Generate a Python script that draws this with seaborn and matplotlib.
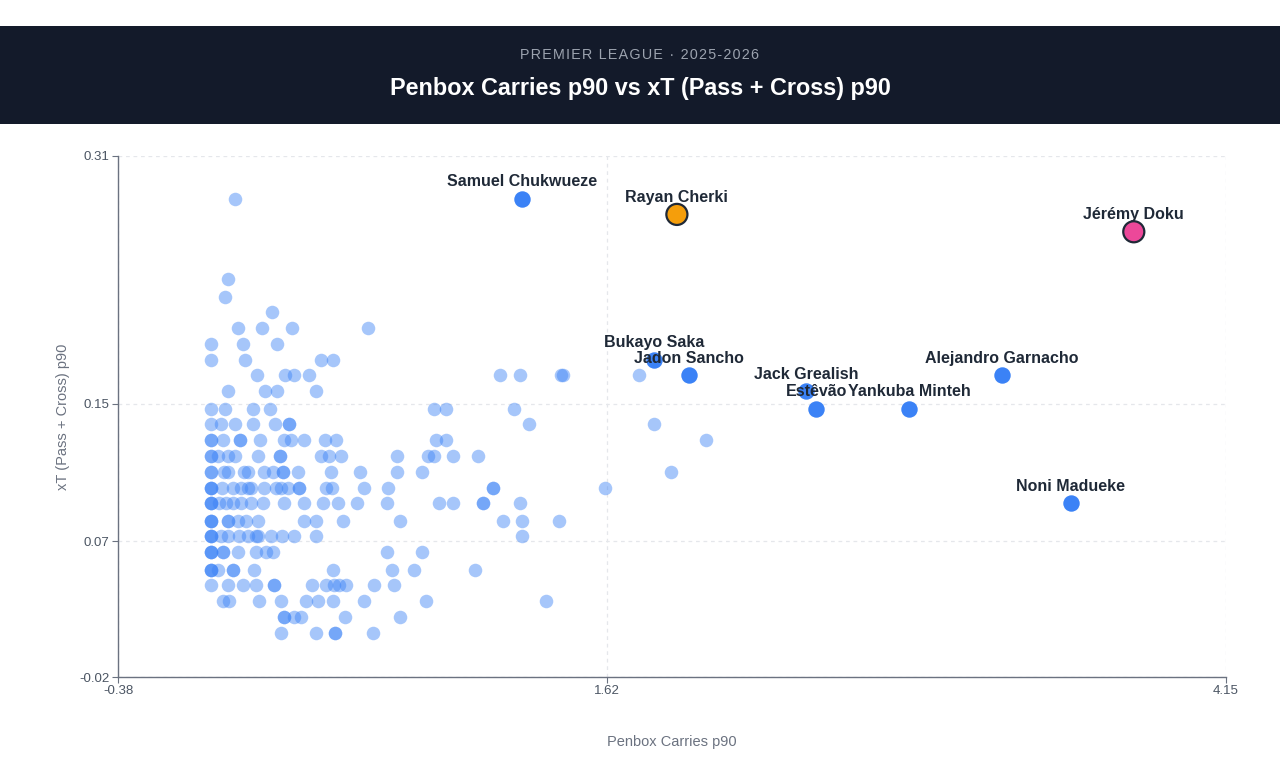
import matplotlib
matplotlib.use('Agg')
import matplotlib.pyplot as plt
import seaborn as sns
import pandas as pd
from matplotlib.patches import Rectangle

# background players, written row by row (same xT value per line)
bg_carries = [
    0.098,
    0.070,
    0.057,
    0.249,
    0.110, 0.209, 0.331, 0.642,
    0.000, 0.131, 0.270,
    0.000, 0.139, 0.450, 0.499,
    0.188, 0.303, 0.339, 0.401, 1.182, 1.263, 1.431, 1.439, 1.750,
    0.070, 0.221, 0.270, 0.429,
    0.000, 0.057, 0.172, 0.241, 0.912, 0.961, 1.239,
    0.000, 0.041, 0.098, 0.172, 0.262, 0.319, 0.319, 1.300, 1.811,
    0.000, 0.000, 0.049, 0.119, 0.119, 0.200, 0.298, 0.327, 0.380, 0.466, 0.511, 0.920, 0.961, 2.024,
    0.000, 0.000, 0.029, 0.070, 0.098, 0.192, 0.282, 0.282, 0.450, 0.482, 0.531, 0.760, 0.887, 0.912, 0.989, 1.092,
    0.000, 0.000, 0.053, 0.070, 0.135, 0.151, 0.217, 0.253, 0.294, 0.294, 0.356, 0.491, 0.609, 0.760, 0.863, 1.881,
    0.000, 0.000, 0.000, 0.045, 0.090, 0.123, 0.151, 0.164, 0.217, 0.266, 0.286, 0.315, 0.360, 0.360, 0.470, 0.495, 0.626, 0.724, 1.153, 1.153, 1.611,
    0.000, 0.000, 0.000, 0.033, 0.061, 0.090, 0.123, 0.164, 0.213, 0.298, 0.380, 0.458, 0.519, 0.597, 0.720, 0.932, 0.989, 1.112, 1.112, 1.263,
    0.000, 0.000, 0.000, 0.070, 0.070, 0.110, 0.143, 0.192, 0.380, 0.429, 0.540, 0.773, 1.194, 1.271, 1.423,
    0.000, 0.000, 0.000, 0.041, 0.070, 0.114, 0.151, 0.184, 0.192, 0.245, 0.290, 0.339, 0.429, 1.271,
    0.000, 0.000, 0.000, 0.049, 0.049, 0.110, 0.184, 0.225, 0.253, 0.720, 0.863,
    0.000, 0.000, 0.000, 0.029, 0.090, 0.090, 0.176, 0.499, 0.740, 0.830, 1.079,
    0.000, 0.070, 0.131, 0.184, 0.258, 0.258, 0.413, 0.470, 0.503, 0.523, 0.552, 0.666, 0.748,
    0.049, 0.074, 0.196, 0.286, 0.388, 0.437, 0.499, 0.626, 0.879, 1.370,
    0.298, 0.298, 0.339, 0.368, 0.548, 0.773,
    0.286, 0.429, 0.507, 0.507, 0.662,
]
bg_xt = [
    0.283,
    0.232,
    0.221,
    0.211,
    0.201, 0.201, 0.201, 0.201,
    0.191, 0.191, 0.191,
    0.181, 0.181, 0.181, 0.181,
    0.171, 0.171, 0.171, 0.171, 0.171, 0.171, 0.171, 0.171, 0.171,
    0.161, 0.161, 0.161, 0.161,
    0.150, 0.150, 0.150, 0.150, 0.150, 0.150, 0.150,
    0.140, 0.140, 0.140, 0.140, 0.140, 0.140, 0.140, 0.140, 0.140,
    0.130, 0.130, 0.130, 0.130, 0.130, 0.130, 0.130, 0.130, 0.130, 0.130, 0.130, 0.130, 0.130, 0.130,
    0.120, 0.120, 0.120, 0.120, 0.120, 0.120, 0.120, 0.120, 0.120, 0.120, 0.120, 0.120, 0.120, 0.120, 0.120, 0.120,
    0.110, 0.110, 0.110, 0.110, 0.110, 0.110, 0.110, 0.110, 0.110, 0.110, 0.110, 0.110, 0.110, 0.110, 0.110, 0.110,
    0.100, 0.100, 0.100, 0.100, 0.100, 0.100, 0.100, 0.100, 0.100, 0.100, 0.100, 0.100, 0.100, 0.100, 0.100, 0.100, 0.100, 0.100, 0.100, 0.100, 0.100,
    0.090, 0.090, 0.090, 0.090, 0.090, 0.090, 0.090, 0.090, 0.090, 0.090, 0.090, 0.090, 0.090, 0.090, 0.090, 0.090, 0.090, 0.090, 0.090, 0.090,
    0.079, 0.079, 0.079, 0.079, 0.079, 0.079, 0.079, 0.079, 0.079, 0.079, 0.079, 0.079, 0.079, 0.079, 0.079,
    0.069, 0.069, 0.069, 0.069, 0.069, 0.069, 0.069, 0.069, 0.069, 0.069, 0.069, 0.069, 0.069, 0.069,
    0.059, 0.059, 0.059, 0.059, 0.059, 0.059, 0.059, 0.059, 0.059, 0.059, 0.059,
    0.048, 0.048, 0.048, 0.048, 0.048, 0.048, 0.048, 0.048, 0.048, 0.048, 0.048,
    0.038, 0.038, 0.038, 0.038, 0.038, 0.038, 0.038, 0.038, 0.038, 0.038, 0.038, 0.038, 0.038,
    0.028, 0.028, 0.028, 0.028, 0.028, 0.028, 0.028, 0.028, 0.028, 0.028,
    0.018, 0.018, 0.018, 0.018, 0.018, 0.018,
    0.008, 0.008, 0.008, 0.008, 0.008,
]

# labelled players
players = ["Samuel Chukwueze", "Rayan Cherki", "Jérémy Doku", "Bukayo Saka", "Jadon Sancho",
           "Jack Grealish", "Estêvão", "Yankuba Minteh", "Alejandro Garnacho", "Noni Madueke"]
player_carries = [1.271, 1.905, 3.773, 1.811, 1.954, 2.433, 2.474, 2.854, 3.234, 3.516]
player_xt = [0.283, 0.273, 0.262, 0.181, 0.171, 0.161, 0.150, 0.150, 0.171, 0.090]
player_group = ["top", "cherki", "doku", "top", "top", "top", "top", "top", "top", "top"]

x_ticks = [-0.38, 1.62, 4.15]
y_ticks = [-0.02, 0.066, 0.153, 0.31]
y_tick_labels = ["-0.02", "0.07", "0.15", "0.31"]

sns.set_theme(style="white")
plt.rcParams['font.family'] = ['Liberation Sans', 'DejaVu Sans']

fig = plt.figure(figsize=(12.8, 7.68), dpi=100)
fig.patch.set_facecolor("white")

# header band
fig.patches.append(Rectangle((0, 1 - 124 / 768), 1, 98 / 768, transform=fig.transFigure,
                             facecolor="#131a2a", edgecolor="none", zorder=0))
fig.text(0.5, 1 - 55 / 768, "PREMIER LEAGUE · 2025-2026".replace("", "\u200a")[1:-1],
         ha="center", va="center", color="#9ca3af", fontsize=10.3)
fig.text(0.5, 1 - 88 / 768, "Penbox Carries p90 vs xT (Pass + Cross) p90",
         ha="center", va="center", color="white", fontsize=16.8, fontweight="bold")

ax = fig.add_axes([118 / 1280, 1 - 677 / 768, 1108 / 1280, 521 / 768])

bg = pd.DataFrame({"carries": bg_carries, "xt": bg_xt})
sns.scatterplot(data=bg, x="carries", y="xt", ax=ax, color="#3b82f6", alpha=0.45,
                s=95, linewidth=0, zorder=2)

pl = pd.DataFrame({"name": players, "carries": player_carries, "xt": player_xt, "group": player_group})
top = pl[pl["group"] == "top"]
sns.scatterplot(data=top, x="carries", y="xt", ax=ax, color="#3b82f6", s=140,
                linewidth=0, zorder=3)
sns.scatterplot(data=pl[pl["group"] != "top"], x="carries", y="xt", hue="group", ax=ax,
                palette={"cherki": "#f59e0b", "doku": "#ec4899"}, s=230,
                edgecolor="#1f2937", linewidth=1.6, zorder=4, legend=False)

for _, r in pl.iterrows():
    ax.annotate(r["name"], (r["carries"], r["xt"]), xytext=(0, 7), textcoords="offset points",
                ha="center", va="bottom", fontsize=11.5, fontweight="bold", color="#1f2937", zorder=5)

ax.set_xlim(-0.38, 4.15)
ax.set_ylim(-0.02, 0.31)
ax.set_xticks(x_ticks)
ax.set_xticklabels([f"{t:.2f}" for t in x_ticks])
ax.set_yticks(y_ticks)
ax.set_yticklabels(y_tick_labels)
ax.grid(True, color="#e5e7eb", linestyle=(0, (3, 3)), linewidth=0.9)
ax.set_axisbelow(True)
for side in ["top", "right"]:
    ax.spines[side].set_visible(False)
for side in ["left", "bottom"]:
    ax.spines[side].set_color("#6b7280")
    ax.spines[side].set_linewidth(1.0)
ax.tick_params(axis="both", length=4, width=0.8, color="#6b7280", labelsize=9.5,
               labelcolor="#4b5563", pad=2, bottom=True, left=True)
ax.set_xlabel("Penbox Carries p90", fontsize=10.5, color="#6b7280", labelpad=27)
ax.set_ylabel("xT (Pass + Cross) p90", fontsize=10.5, color="#6b7280", labelpad=7)

fig.savefig("out.png", dpi=100)
